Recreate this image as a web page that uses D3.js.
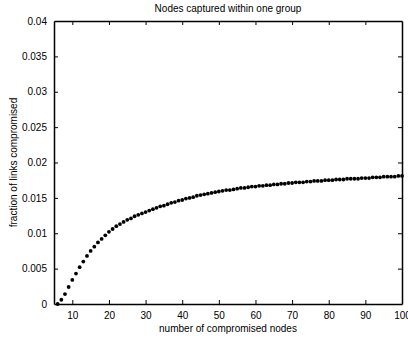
<!DOCTYPE html>
<html><head><meta charset="utf-8">
<script src="https://cdn.jsdelivr.net/npm/d3@7"></script>
<style>body{margin:0;background:#fff}svg{display:block}text{font-family:"Liberation Sans",Arial,sans-serif;font-size:10px;fill:#000}</style>
</head><body>
<script>
const nodes = d3.range(6, 101);
const fraction = [
0, .0006, .0014, .0024, .0034, .0043, .0052, .0060, .0068, .0075,
.0081, .0087, .0092, .0097, .0102, .0106, .0110, .0113, .0116, .0119,
.0121, .0124, .0126, .0128, .0130, .0132, .0134, .0136, .0138, .0139,
.0141, .0143, .0144, .0146, .0147, .0149, .0150, .0151, .0153, .0154,
.0155, .0156, .0157, .0158, .0159, .0160, .0161, .0161, .0162, .0163,
.0164, .0164, .0165, .0166, .0166, .0167, .0167, .0168, .0168, .0169,
.0169, .0170, .0170, .0171, .0171, .0172, .0172, .0172, .0173, .0173,
.0174, .0174, .0174, .0175, .0175, .0175, .0176, .0176, .0176, .0177,
.0177, .0177, .0177, .0178, .0178, .0178, .0179, .0179, .0179, .0180,
.0180, .0180, .0180, .0181, .0181];
const xTicks = [10,20,30,40,50,60,70,80,90,100];
const yTicks = [0,0.005,0.01,0.015,0.02,0.025,0.03,0.035,0.04];
const title = "Nodes captured within one group";
const xLabel = "number of compromised nodes";
const yLabel = "fraction of links compromised";

const W=408,H=338, L=54,R=402,T=21,B=304;
const svg=d3.select("body").append("svg").attr("width",W).attr("height",H);
const x=d3.scaleLinear().domain([5,100]).range([L,R]);
const y=d3.scaleLinear().domain([0,0.04]).range([B,T]);
const fmt=d=>d===0?"0":String(+d.toFixed(3));

const gx=svg.append("g").attr("transform",`translate(0,${B})`)
  .call(d3.axisBottom(x).tickValues(xTicks).tickSizeInner(-4).tickSizeOuter(0).tickPadding(8));
const gxt=svg.append("g").attr("transform",`translate(0,${T})`)
  .call(d3.axisTop(x).tickValues(xTicks).tickSizeInner(-4).tickSizeOuter(0).tickFormat(""));
const gy=svg.append("g").attr("transform",`translate(${L},0)`)
  .call(d3.axisLeft(y).tickValues(yTicks).tickSizeInner(-4).tickSizeOuter(0).tickPadding(7).tickFormat(fmt));
const gyr=svg.append("g").attr("transform",`translate(${R},0)`)
  .call(d3.axisRight(y).tickValues(yTicks).tickSizeInner(-4).tickSizeOuter(0).tickFormat(""));
[gx,gxt,gy,gyr].forEach(g=>{
  g.selectAll("path").attr("stroke","#000").attr("stroke-width",1.5);
  g.selectAll("line").attr("stroke","#000").attr("stroke-width",1);
  g.selectAll("text").attr("font-size",10).attr("font-family","Liberation Sans, Arial, sans-serif").attr("fill","#000");
});
gx.selectAll(".tick").filter(d=>d===100).select("line").remove();
gxt.selectAll(".tick").filter(d=>d===100).select("line").remove();
gy.selectAll(".tick").filter(d=>d===0.04||d===0).select("line").remove();
gyr.selectAll(".tick").filter(d=>d===0.04||d===0).select("line").remove();

svg.append("g").selectAll("circle").data(nodes).join("circle")
  .attr("cx",(d)=>x(d)).attr("cy",(d,i)=>y(fraction[i])).attr("r",1.9).attr("fill","#000");

svg.append("text").attr("x",(L+R)/2).attr("y",12).attr("text-anchor","middle").text(title);
svg.append("text").attr("x",(L+R)/2).attr("y",332).attr("text-anchor","middle").text(xLabel);
svg.append("text").attr("transform",`translate(17,${(T+B)/2}) rotate(-90)`).attr("text-anchor","middle").text(yLabel);
</script>
</body></html>
